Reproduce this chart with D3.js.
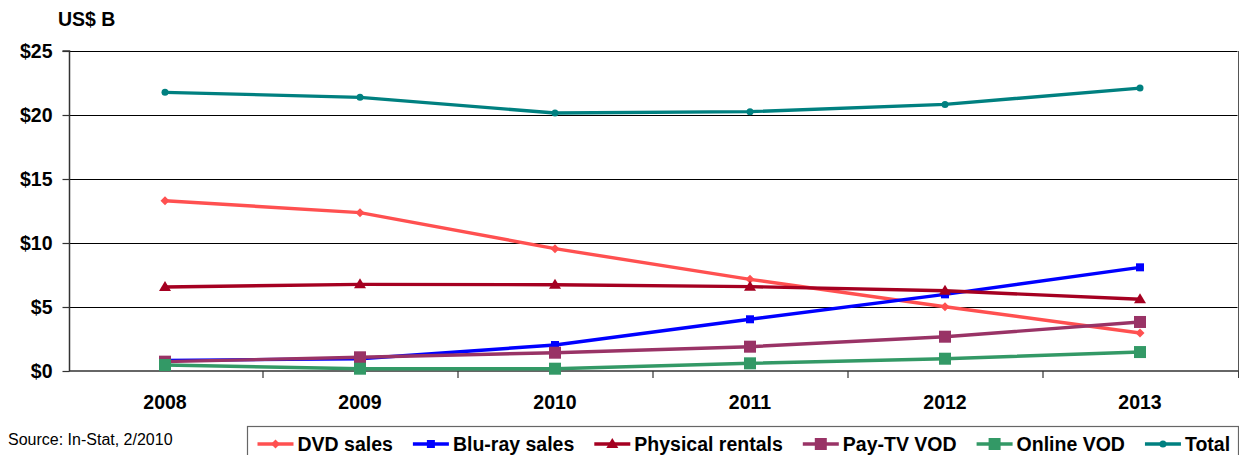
<!DOCTYPE html>
<html>
<head>
<meta charset="utf-8">
<script src="https://cdn.jsdelivr.net/npm/d3@7"></script>
<style>
  html, body { margin: 0; padding: 0; background: #fff; }
  svg { display: block; }
  text { font-family: Arial, "Liberation Sans", sans-serif; }
</style>
</head>
<body>
<svg id="chart" width="1239" height="455"></svg>
<script>
const years = ["2008", "2009", "2010", "2011", "2012", "2013"];
const yTicks = [0, 5, 10, 15, 20, 25];
const seriesNames = ["DVD sales", "Blu-ray sales", "Physical rentals", "Pay-TV VOD", "Online VOD", "Total"];
const dvdSales = [13.3, 12.37, 9.56, 7.16, 5.02, 2.97];
const bluRaySales = [0.83, 0.96, 2.03, 4.04, 5.99, 8.1];
const physicalRentals = [6.56, 6.77, 6.74, 6.59, 6.27, 5.6];
const payTvVod = [0.73, 1.07, 1.43, 1.9, 2.68, 3.83];
const onlineVod = [0.47, 0.18, 0.18, 0.6, 0.96, 1.48];
const total = [21.77, 21.38, 20.16, 20.26, 20.83, 22.1];
const colors = ["#FF5050", "#0000FF", "#A50021", "#993366", "#339966", "#008080"];
const markers = ["diamond", "smallsquare", "triangle", "bigsquare", "bigsquare", "circle"];

const seriesValues = [dvdSales, bluRaySales, physicalRentals, payTvVod, onlineVod, total];
const series = seriesNames.map((n, i) => ({ name: n, values: seriesValues[i], color: colors[i], marker: markers[i] }));

const FS = 19.5;
const svg = d3.select("#chart");
const pLeft = 67.5, pRight = 1237.5, pTop = 51, pBottom = 371;

const x = d3.scaleBand().domain(years).range([pLeft, pRight]).paddingInner(0).paddingOuter(0);
const y = d3.scaleLinear().domain([0, 25]).range([pBottom, pTop]);
const cx = d => x(d) + x.bandwidth() / 2;

// gridlines
svg.append("g").selectAll("line").data(yTicks.filter(v => v > 0)).join("line")
  .attr("x1", pLeft + 1.5).attr("x2", pRight)
  .attr("y1", d => Math.round(y(d)) + 0.5).attr("y2", d => Math.round(y(d)) + 0.5)
  .attr("stroke", "#000").attr("stroke-width", 1);

// right border of plot area
svg.append("line").attr("x1", 1238.5).attr("x2", 1238.5).attr("y1", pTop).attr("y2", pBottom + 7)
  .attr("stroke", "#555").attr("stroke-width", 1);

// y axis
const yAxis = d3.axisLeft(y).tickValues(yTicks).tickFormat(d => "$" + d).tickSize(7).tickPadding(10);
const gy = svg.append("g").attr("transform", `translate(69.5,0)`).call(yAxis);
gy.select(".domain").attr("stroke", "#333").attr("stroke-width", 1.5).attr("d", `M-7,${pTop}H0V${pBottom}`);
gy.selectAll(".tick line").attr("stroke", "#333").attr("stroke-width", 1.2);
gy.selectAll(".tick text").attr("font-size", FS).attr("font-weight", "bold").attr("fill", "#000")
  .attr("font-family", "Arial, 'Liberation Sans', sans-serif");

// x axis
const xAxis = d3.axisBottom(x).tickSize(0).tickPadding(0);
const gx = svg.append("g").attr("transform", `translate(0,${pBottom})`).call(xAxis);
gx.select(".domain").attr("stroke", "#333").attr("stroke-width", 1.5).attr("d", `M${pLeft + 1.5},0H${pRight + 1}`);
gx.selectAll(".tick text").attr("font-size", FS).attr("font-weight", "bold").attr("fill", "#000")
  .attr("dy", null).attr("y", 38)
  .attr("font-family", "Arial, 'Liberation Sans', sans-serif");
// boundary ticks
const bounds = years.slice(1).map(d => x(d)).concat([pRight + 1]);
gx.selectAll("line.bt").data(bounds).join("line").attr("class", "bt")
  .attr("x1", d => d + 0.5).attr("x2", d => d + 0.5).attr("y1", 0).attr("y2", 7)
  .attr("stroke", "#333").attr("stroke-width", 1.2);

// unit label
svg.append("text").attr("x", 58).attr("y", 26).text("US$ B")
  .attr("font-size", FS).attr("font-weight", "bold");

// marker drawing
function drawMarker(g, type, color, px, py) {
  if (type === "diamond") {
    g.append("path").attr("d", `M${px},${py - 4.5}L${px + 4.5},${py}L${px},${py + 4.5}L${px - 4.5},${py}Z`).attr("fill", color);
  } else if (type === "smallsquare") {
    g.append("rect").attr("x", px - 4).attr("y", py - 4).attr("width", 8).attr("height", 8).attr("fill", color);
  } else if (type === "bigsquare") {
    g.append("rect").attr("x", px - 6).attr("y", py - 6).attr("width", 12).attr("height", 12).attr("fill", color);
  } else if (type === "triangle") {
    g.append("path").attr("d", `M${px},${py - 6}L${px + 6},${py + 4}L${px - 6},${py + 4}Z`).attr("fill", color);
  } else if (type === "circle") {
    g.append("circle").attr("cx", px).attr("cy", py).attr("r", 3.5).attr("fill", color);
  }
}

const line = d3.line().x((d, i) => cx(years[i])).y(d => y(d));
const plot = svg.append("g");
series.forEach(s => {
  const g = plot.append("g");
  g.append("path").attr("d", line(s.values)).attr("fill", "none")
    .attr("stroke", s.color).attr("stroke-width", 3.4).attr("stroke-linejoin", "round");
  s.values.forEach((v, i) => drawMarker(g, s.marker, s.color, cx(years[i]), y(v)));
});

// source
svg.append("text").attr("x", 8).attr("y", 445).text("Source: In-Stat, 2/2010")
  .attr("font-size", 16).attr("fill", "#000");

// legend
const lg = svg.append("g");
lg.append("rect").attr("x", 247.5).attr("y", 426.5).attr("width", 991).attr("height", 40)
  .attr("fill", "#fff").attr("stroke", "#666").attr("stroke-width", 1.2);
let lx = 257.5;
series.forEach(s => {
  const g = lg.append("g");
  g.append("line").attr("x1", lx).attr("x2", lx + 36).attr("y1", 444).attr("y2", 444)
    .attr("stroke", s.color).attr("stroke-width", 3.4);
  drawMarker(g, s.marker, s.color, lx + 18, 444);
  const t = g.append("text").attr("x", lx + 40).attr("y", 451).text(s.name)
    .attr("font-size", FS).attr("font-weight", "bold").attr("fill", "#000");
  lx = lx + 40 + t.node().getComputedTextLength() + 20;
});
</script>
</body>
</html>
